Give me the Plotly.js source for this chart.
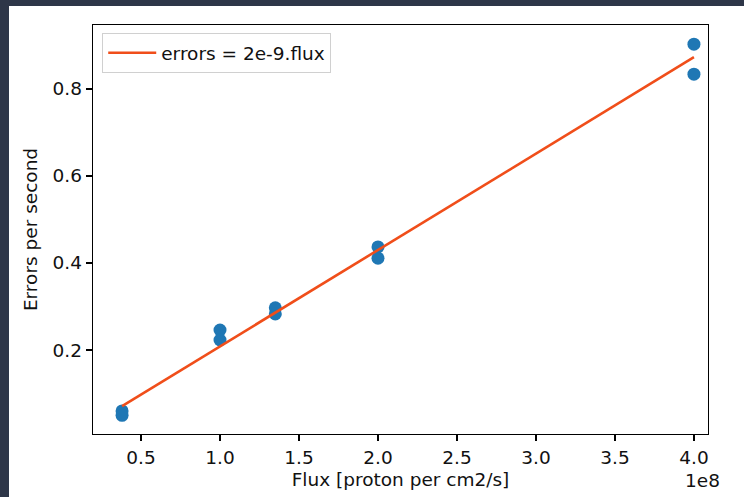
<!DOCTYPE html>
<html>
<head>
<meta charset="utf-8">
<script src="https://cdn.plot.ly/plotly-3.0.1.min.js"></script>
<style>
  html, body { margin: 0; padding: 0; background: #2e3648; width: 744px; height: 497px; overflow: hidden; }
  #chart { position: absolute; left: 9px; top: 6px; width: 735px; height: 491px; background: #ffffff; }
</style>
</head>
<body>
<div id="chart"></div>
<script>
// Measured data (flux in protons per cm2/s, errors per second)
const fluxPoints   = [0.38e8, 0.38e8, 1.0e8, 1.0e8, 1.35e8, 1.35e8, 2.0e8, 2.0e8, 4.0e8, 4.0e8];
const errorPoints  = [0.060, 0.050, 0.246, 0.223, 0.297, 0.283, 0.437, 0.411, 0.903, 0.834];
// Fitted line
const fitFlux      = [0.38e8, 4.0e8];
const fitErrors    = [0.071, 0.873];
const fitLabel     = "errors = 2e-9.flux";
// Axis ticks
const xTickVals    = [0.5e8, 1.0e8, 1.5e8, 2.0e8, 2.5e8, 3.0e8, 3.5e8, 4.0e8];
const xTickText    = ["0.5", "1.0", "1.5", "2.0", "2.5", "3.0", "3.5", "4.0"];
const yTickVals    = [0.2, 0.4, 0.6, 0.8];
const yTickText    = ["0.2", "0.4", "0.6", "0.8"];

const FONT = "DejaVu Sans, sans-serif";
const FS = 18.5;

const traces = [
  {
    x: fluxPoints, y: errorPoints, type: "scatter", mode: "markers",
    marker: { color: "#1f77b4", size: 13 }, showlegend: false, hoverinfo: "x+y"
  },
  {
    x: fitFlux, y: fitErrors, type: "scatter", mode: "lines",
    line: { color: "#f04e1a", width: 2.6 }, name: fitLabel
  }
];

const axisCommon = {
  showgrid: false, zeroline: false, showline: true, mirror: true,
  linecolor: "#000", linewidth: 1.3, ticks: "outside", ticklen: 6,
  tickwidth: 1.3, tickcolor: "#000", tickmode: "array",
  tickfont: { family: FONT, size: FS, color: "#111" }
};

const layout = {
  width: 735, height: 491,
  margin: { l: 84, r: 36, t: 19, b: 63 },
  paper_bgcolor: "#ffffff", plot_bgcolor: "#ffffff",
  font: { family: FONT, size: FS, color: "#111" },
  xaxis: Object.assign({}, axisCommon, {
    range: [0.196e8, 4.089e8], tickvals: xTickVals, ticktext: xTickText,
    title: { text: "Flux [proton per cm2/s]", font: { family: FONT, size: FS }, standoff: 6 }
  }),
  yaxis: Object.assign({}, axisCommon, {
    range: [0.007, 0.947], tickvals: yTickVals, ticktext: yTickText,
    title: { text: "Errors per second", font: { family: FONT, size: FS }, standoff: 10 }
  }),
  legend: {
    x: 0.015, y: 0.98, xanchor: "left", yanchor: "top", itemwidth: 48,
    bgcolor: "rgba(255,255,255,0.9)", bordercolor: "#d0d0d0", borderwidth: 1,
    font: { family: FONT, size: FS, color: "#111" }
  },
  annotations: [
    { text: "1e8", xref: "paper", yref: "paper", x: 1.0, y: 0, xanchor: "right", yanchor: "top",
      xshift: 14, yshift: -34, showarrow: false, font: { family: FONT, size: FS, color: "#111" } }
  ]
};

Plotly.newPlot("chart", traces, layout, { staticPlot: true, displayModeBar: false });
</script>
</body>
</html>
